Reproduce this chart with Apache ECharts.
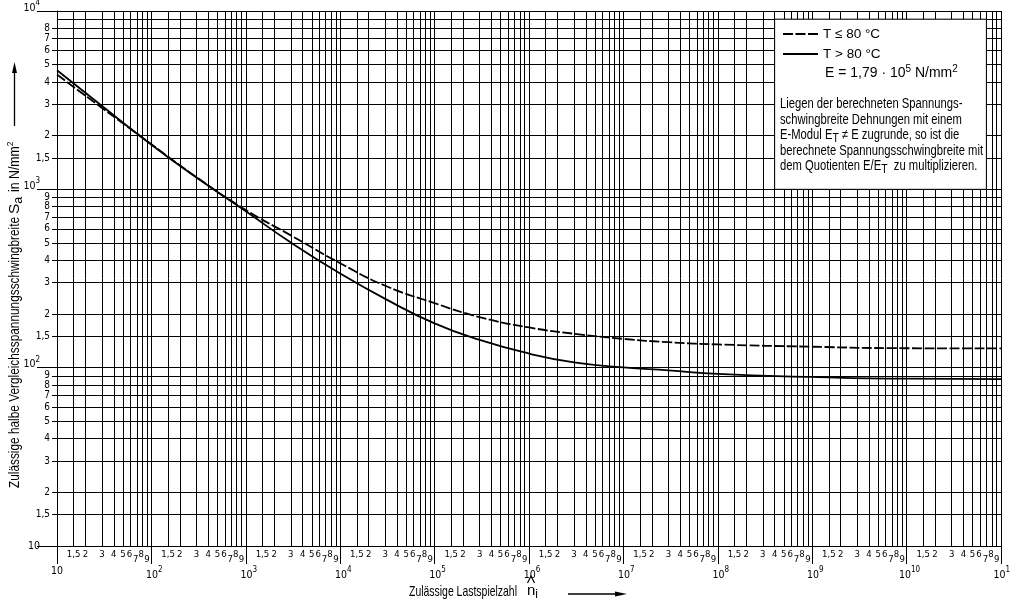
<!DOCTYPE html>
<html><head><meta charset="utf-8">
<script src="https://cdn.jsdelivr.net/npm/echarts@6/dist/echarts.min.js"></script>
<style>html,body{margin:0;padding:0;background:#fff}#c{width:1010px;height:604px}</style>
</head><body><div id="c"></div>
<script>
// ---- data ----
const nCycles   = [10, 30, 100, 300, 1e3, 3e3, 1e4, 3e4, 1e5, 3e5, 1e6, 3e6, 1e7, 3e7, 1e8, 1e9, 1e10, 1e11];
const saUpTo80  = [4400, 2860, 1790, 1170, 766, 552, 385, 288, 230, 192, 168, 155, 145, 139, 135, 131, 128.5, 128.2];
const saAbove80 = [4650, 2930, 1780, 1165, 753, 503, 337, 243, 177, 143, 120, 107, 100.4, 96.6, 92.2, 88.7, 86.7, 86.3];
const seriesNames = ['T \u2264 80 \u00b0C', 'T > 80 \u00b0C'];
const mantissas = [1.5, 2, 3, 4, 5, 6, 7, 8, 9];
const xExponents = [1, 2, 3, 4, 5, 6, 7, 8, 9, 10, 11];
const yExponents = [1, 2, 3, 4];
const noteBox = [[4e8, 9000], [7e10, 1000]];
const noteLines = [
  'Liegen der berechneten Spannungs-',
  'schwingbreite Dehnungen mit einem',
  'E-Modul E{sub|T} \u2260 E zugrunde, so ist die',
  'berechnete Spannungsschwingbreite mit',
  'dem Quotienten E/E{sub|T}  zu multiplizieren.'
];

// ---- helpers ----
function decadeValues(exps) { return exps.map(e => Math.pow(10, e)); }
function minorValues(exps) {
  const out = [];
  for (let i = 0; i < exps.length - 1; i++)
    for (const m of mantissas) out.push(+(m * Math.pow(10, exps[i])).toPrecision(6));
  return out;
}
function expOf(v) { return Math.floor(Math.log10(v) + 1e-9); }
function mantOf(v) { return Math.round(v / Math.pow(10, expOf(v)) * 10) / 10; }

const FONT = "'Liberation Sans', Arial, sans-serif";
const NARROW = "'Liberation Sans Narrow', 'DejaVu Sans Condensed', 'Liberation Sans', sans-serif";

const xDec = decadeValues(xExponents), xMin = minorValues(xExponents);
const yDec = decadeValues(yExponents), yMin = minorValues(yExponents);
const xAll = xDec.concat(xMin).sort((a, b) => a - b);
const yAll = yDec.concat(yMin).sort((a, b) => a - b);

const lab = {fontSize: 9.5, fontFamily: NARROW, color: '#000'};
const xMinorRich = {
  n: Object.assign({}, lab),
  m6: Object.assign({padding: [0, 2, 0, 0]}, lab),
  m7: Object.assign({padding: [5, 2, 0, 0]}, lab),
  m8: Object.assign({padding: [0, 2, 0, 0]}, lab),
  m9: Object.assign({padding: [5, 0, 0, 0]}, lab)
};
function xMinorFmt(v) {
  const m = mantOf(v);
  if (m >= 6) return '{m' + m + '|' + m + '}';
  return '{n|' + String(m).replace('.', ',') + '}';
}
function yMinorFmt(v) { return String(mantOf(v)).replace('.', ','); }
const decRich = {
  b0: {fontSize: 10.5, fontFamily: NARROW, color: '#000'},
  b: {fontSize: 10.5, fontFamily: NARROW, color: '#000', padding: [0, 0, 6, 0]},
  s: {fontSize: 8, fontFamily: NARROW, color: '#000', padding: [0, 0, 16, 0]}
};
const xDecRich = {
  b0: {fontSize: 10.5, fontFamily: NARROW, color: '#000'},
  b: {fontSize: 10.5, fontFamily: NARROW, color: '#000', padding: [0, 0, 0, 6]},
  s: {fontSize: 8, fontFamily: NARROW, color: '#000', padding: [0, 0, 10, 0]}
};
function decFmt(v) {
  const e = expOf(v);
  return e === 1 ? '{b0|10}' : '{b|10}{s|' + e + '}';
}

const ctx = document.createElement('canvas').getContext('2d');
function fit(text, font, width) { ctx.font = font; return width / ctx.measureText(text).width; }

const black = {color: '#000', width: 1};
const chart = echarts.init(document.getElementById('c'));

const yTitleFont = '15.5px ' + FONT;
const xTitleFont = '14.5px ' + FONT;
const paraFont = '14px ' + FONT;
const paraScale = fit('berechnete Spannungsschwingbreite mit', paraFont, 203);

const graphics = [
  {type: 'text', x: 15, y: 488, rotation: Math.PI / 2,
   scaleX: fit('Zulässige halbe Vergleichsspannungsschwingbreite', yTitleFont, 271),
   style: {text: 'Zulässige halbe Vergleichsspannungsschwingbreite', font: yTitleFont, fill: '#000', align: 'left', verticalAlign: 'middle'}},
  {type: 'text', x: 15, y: 214, rotation: Math.PI / 2,
   style: {text: '{t|S}{u|a}', fill: '#000', align: 'left', verticalAlign: 'middle',
     rich: {t: {fontSize: 15.5, fontFamily: FONT}, u: {fontSize: 12.5, fontFamily: FONT, padding: [7, 0, 0, 0]}}}},
  {type: 'text', x: 15, y: 192, rotation: Math.PI / 2, scaleX: 0.88,
   style: {text: '{t|in N/mm}{p|2}', fill: '#000', align: 'left', verticalAlign: 'middle',
     rich: {t: {fontSize: 14, fontFamily: FONT}, p: {fontSize: 9.5, fontFamily: FONT, padding: [0, 0, 9, 0]}}}},
  // y arrow
  {type: 'line', shape: {x1: 14.5, y1: 126, x2: 14.5, y2: 70}, style: {stroke: '#000', lineWidth: 1.3}},
  {type: 'polygon', shape: {points: [[14.5, 62], [12, 73], [17, 73]]}, style: {fill: '#000'}},
  // x title
  {type: 'text', x: 409, y: 592, scaleX: fit('Zulässige Lastspielzahl', xTitleFont, 108),
   style: {text: 'Zulässige Lastspielzahl', font: xTitleFont, fill: '#000', align: 'left', verticalAlign: 'middle'}},
  {type: 'text', x: 527, y: 591, style: {text: '{n|n}{i|i}', fill: '#000', align: 'left', verticalAlign: 'middle',
     rich: {n: {fontSize: 15, fontFamily: FONT}, i: {fontSize: 12, fontFamily: FONT, padding: [7, 0, 0, 0]}}}},
  {type: 'polyline', shape: {points: [[527.5, 583], [531, 576], [534.5, 583]]}, style: {stroke: '#000', lineWidth: 1.2, fill: null}},
  {type: 'line', shape: {x1: 568, y1: 594, x2: 617, y2: 594}, style: {stroke: '#000', lineWidth: 1.3}},
  {type: 'polygon', shape: {points: [[627, 594], [615, 591.5], [615, 596.5]]}, style: {fill: '#000'}},
  // legend E line
  {type: 'text', x: 825, y: 73, scaleX: fit('E = 1,79 · 10 5 N/mm 2', '14px ' + FONT, 145),
   style: {text: '{t|E = 1,79 \u00b7 10}{p|5}{t| N/mm}{p|2}', fill: '#000', align: 'left', verticalAlign: 'middle',
     rich: {t: {fontSize: 14, fontFamily: FONT}, p: {fontSize: 10, fontFamily: FONT, padding: [0, 0, 8, 0]}}}}
];
const paraY = [104, 120, 135, 151, 166];
noteLines.forEach((s, i) => graphics.push({
  type: 'text', x: 780, y: paraY[i], scaleX: paraScale,
  style: {text: '{t|' + s.replace(/\{sub\|T\}/g, '}{sub|T}{t|') + '}', fill: '#000', align: 'left', verticalAlign: 'middle',
    rich: {t: {fontSize: 14, fontFamily: FONT}, sub: {fontSize: 13, fontFamily: FONT, padding: [7, 0, 0, 0]}}}
}));

const option = {
  animation: false,
  backgroundColor: '#fff',
  grid: {left: 57, right: 9, top: 11, bottom: 58, containLabel: false, outerBoundsMode: 'none'},
  legend: {
    left: 777, top: 22, orient: 'vertical', itemWidth: 35, itemHeight: 14, itemGap: 6, z: 20,
    itemStyle: {opacity: 0},
    textStyle: {fontSize: 13.5, fontFamily: FONT, color: '#000'}, data: seriesNames
  },
  xAxis: [
    {type: 'log', logBase: 10, min: 10, max: 1e11, position: 'bottom',
     axisLine: {show: true, lineStyle: black},
     axisTick: {show: false, customValues: xAll},
     splitLine: {show: true, lineStyle: black},
     axisLabel: {show: true, customValues: xMin, margin: 4, formatter: xMinorFmt, rich: xMinorRich}},
    {type: 'log', logBase: 10, min: 10, max: 1e11, position: 'bottom',
     axisLine: {show: false},
     axisTick: {show: true, customValues: xDec, length: 18, lineStyle: black},
     splitLine: {show: false},
     axisLabel: {show: true, customValues: xDec, margin: 20, formatter: decFmt, rich: xDecRich}}
  ],
  yAxis: [
    {type: 'log', logBase: 10, min: 10, max: 1e4, position: 'left',
     axisLine: {show: true, lineStyle: black},
     axisTick: {show: true, customValues: yAll, length: 5, lineStyle: black},
     splitLine: {show: true, lineStyle: black},
     axisLabel: {show: true, customValues: yMin, margin: 7, formatter: yMinorFmt, fontSize: 10, fontFamily: NARROW, color: '#000'}},
    {type: 'log', logBase: 10, min: 10, max: 1e4, position: 'left',
     axisLine: {show: false},
     axisTick: {show: true, customValues: yDec, length: 20, lineStyle: black},
     splitLine: {show: false},
     axisLabel: {show: true, customValues: yDec, margin: 17, formatter: decFmt, rich: decRich}}
  ],
  series: [
    {name: seriesNames[0], type: 'line', smooth: true, symbol: 'none', z: 5,
     data: nCycles.map((n, i) => [n, saUpTo80[i]]),
     lineStyle: {color: '#000', width: 1.8, type: [10, 2.5]}, itemStyle: {color: '#000'}},
    {name: seriesNames[1], type: 'line', smooth: true, symbol: 'none', z: 5,
     data: nCycles.map((n, i) => [n, saAbove80[i]]),
     lineStyle: {color: '#000', width: 1.8}, itemStyle: {color: '#000'},
     markArea: {silent: true, itemStyle: {color: '#fff', borderColor: '#000', borderWidth: 1},
       data: [[{coord: noteBox[0]}, {coord: noteBox[1]}]]}}
  ],
  graphic: {elements: graphics.map(g => Object.assign({z: 100}, g))}
};
chart.setOption(option);
</script></body></html>
